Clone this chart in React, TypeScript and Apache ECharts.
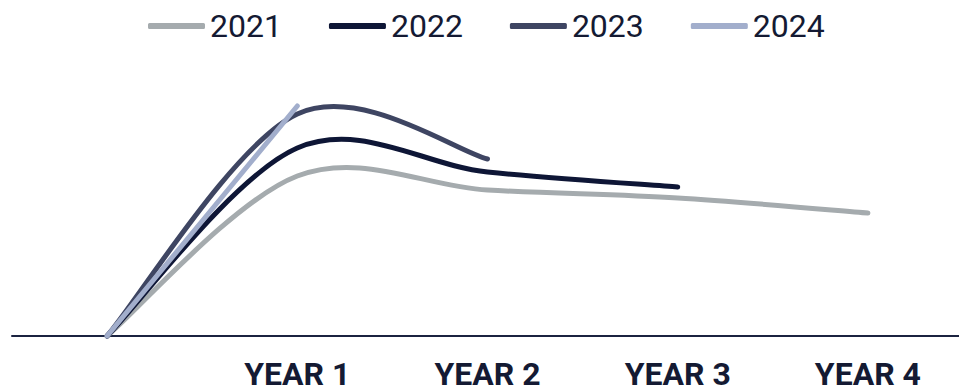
import React, { useEffect, useRef } from "react";
import * as echarts from "echarts";

const categories = ["", "YEAR 1", "YEAR 2", "YEAR 3", "YEAR 4"];
const seriesNames = ["2021", "2022", "2023", "2024"];
const values2021 = [0, 160, 146, 138, 123];
const values2022 = [0, 188, 164, 149];
const values2023 = [0, 222, 177];
const values2024 = [0, 230];
const colors = ["#A5ABAE", "#0E1636", "#3E4562", "#A2AECC"];

const TENSION = 1 / 6;

function smoothPath(pts: number[][]): string {
  if (pts.length < 2) return "";
  let d = `M${pts[0][0]},${pts[0][1]}`;
  for (let i = 0; i < pts.length - 1; i++) {
    const p0 = pts[i - 1] || pts[i];
    const p1 = pts[i];
    const p2 = pts[i + 1];
    const p3 = pts[i + 2] || pts[i + 1];
    const c1x = p1[0] + (p2[0] - p0[0]) * TENSION;
    const c1y = p1[1] + (p2[1] - p0[1]) * TENSION;
    const c2x = p2[0] - (p3[0] - p1[0]) * TENSION;
    const c2y = p2[1] - (p3[1] - p1[1]) * TENSION;
    d += ` C${c1x},${c1y} ${c2x},${c2y} ${p2[0]},${p2[1]}`;
  }
  return d;
}

export default function App() {
  const ref = useRef<HTMLDivElement>(null);
  useEffect(() => {
    if (!ref.current) return;
    const chart = echarts.init(ref.current, null, { renderer: "svg" });
    const data = [values2021, values2022, values2023, values2024];
    chart.setOption({
      animation: false,
      backgroundColor: "#ffffff",
      legend: {
        left: 143,
        top: 5,
        itemWidth: 57,
        itemHeight: 6,
        itemGap: 47,
        icon: "roundRect",
        textStyle: {
          fontFamily: "Roboto",
          fontSize: 32,
          color: "#141A33",
        },
        data: seriesNames,
      },
      grid: { left: 12, right: -4, top: 36, bottom: 51, outerBoundsMode: "none", containLabel: false },
      xAxis: {
        type: "category",
        data: categories,
        boundaryGap: true,
        axisLine: { lineStyle: { color: "#1B2340", width: 2 } },
        axisTick: { show: false },
        axisLabel: {
          fontFamily: "Roboto",
          fontWeight: "bold",
          fontSize: 32,
          color: "#141A33",
          margin: 22,
        },
      },
      yAxis: {
        type: "value",
        min: 0,
        max: 300,
        show: false,
        splitLine: { show: false },
      },
      series: seriesNames.map((name, i) => {
        const vals = data[i];
        return {
          name,
          type: "custom",
          data: vals.map((v, j) => [j, v]),
          encode: { x: 0, y: 1 },
          itemStyle: { color: colors[i] },
          renderItem: (params: any, api: any) => {
            if (params.dataIndex !== 0) return null;
            const pts = vals.map((v, j) => api.coord([j, v]));
            return {
              type: "path",
              shape: { pathData: smoothPath(pts) },
              style: {
                stroke: colors[i],
                lineWidth: 5,
                fill: null,
                lineCap: "round",
                lineJoin: "round",
              },
            };
          },
        };
      }),
    });
    return () => chart.dispose();
  }, []);
  return <div ref={ref} style={{ width: 959, height: 387, position: "absolute", left: 0, top: 0 }} />;
}
